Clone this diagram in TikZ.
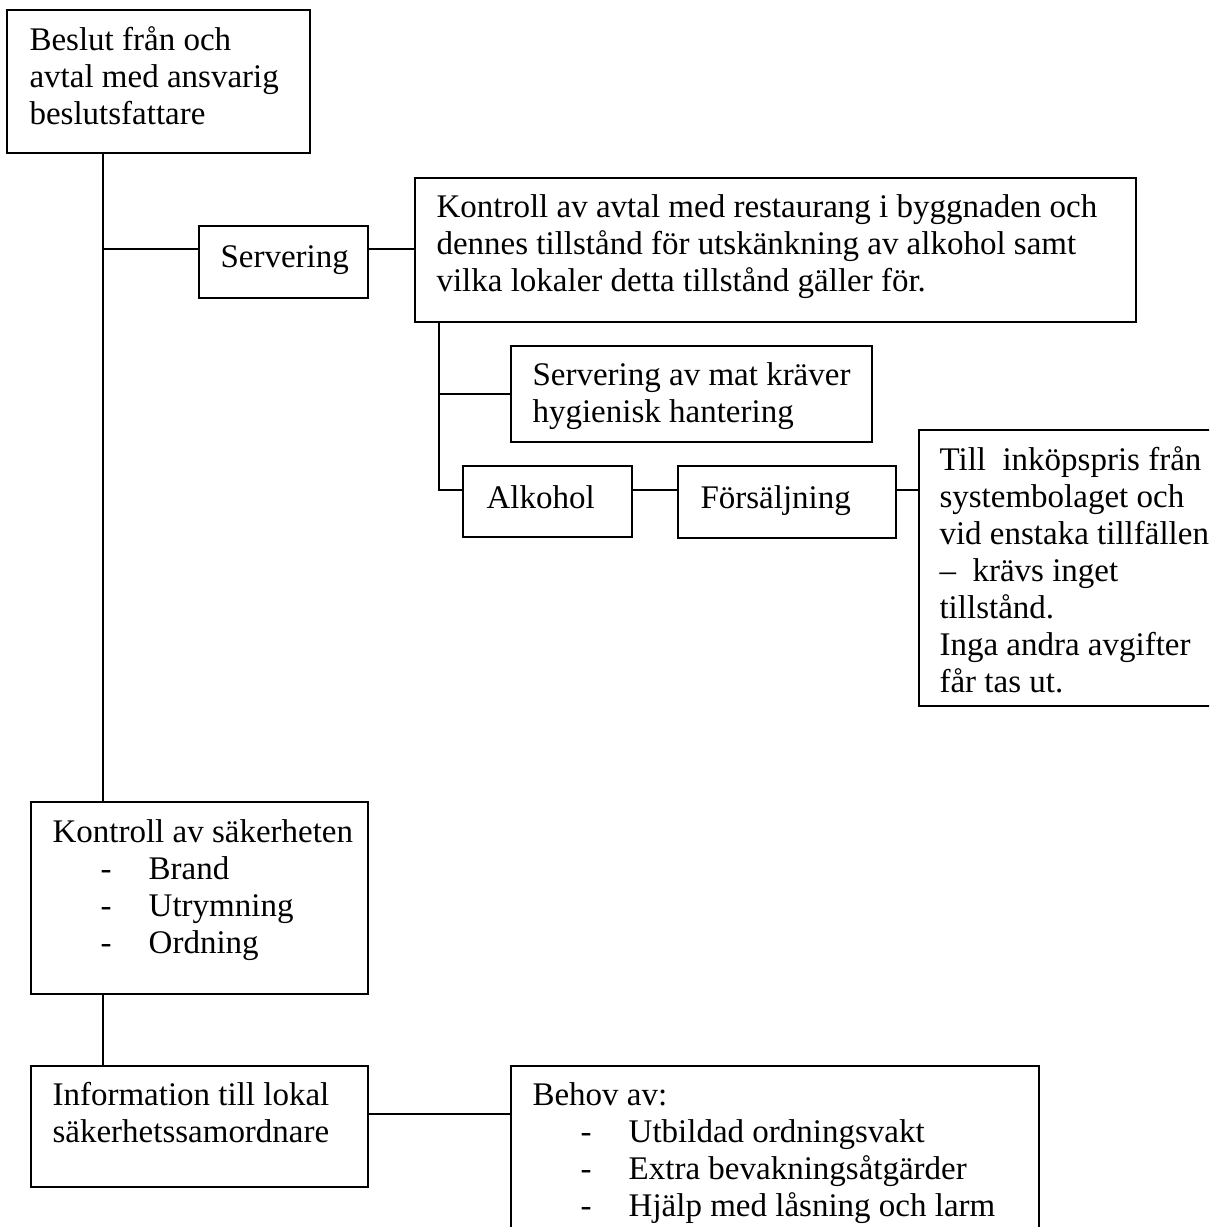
\documentclass[tikz,border=0pt]{standalone}
\usepackage{fontspec}
\setmainfont{Liberation Serif}
\begin{document}
\begin{tikzpicture}[x=0.3576pt,y=-0.3576pt,
  bx/.style n args={2}{draw, line width=0.7pt, minimum width=#1*0.3576pt, minimum height=#2*0.3576pt, anchor=north west, inner sep=0pt, outer sep=0pt},
  txt/.style={anchor=north west, inner sep=0pt, align=left, font=\fontsize{11.8}{13.25}\selectfont},
  conn/.style={line width=0.7pt}]
\useasboundingbox (0,0) rectangle (1209,1227);
\clip (0,0) rectangle (1209,1227);
% boxes
\node[bx={303}{143}] (b1) at (7,10) {};
\node[bx={169}{72}] (serv) at (199,226) {};
\node[bx={721}{144}] (avtal) at (415,178) {};
\node[bx={361}{96}] (mat) at (511,346) {};
\node[bx={169}{71}] (alk) at (463,466) {};
\node[bx={218}{72}] (fors) at (678,466) {};
\node[bx={300}{276}] (till) at (919,430) {};
\node[bx={337}{192}] (sak) at (31,802) {};
\node[bx={337}{121}] (info) at (31,1066) {};
\node[bx={528}{180}] (behov) at (511,1066) {};
% texts
\node[txt] (t1) at (29,24) {\strut Beslut från och\\avtal med ansvarig\\beslutsfattare};
\node[txt] (t2) at (220,241) {\strut Servering};
\node[txt] (t3) at (436,191) {\strut Kontroll av avtal med restaurang i byggnaden och\\dennes tillstånd för utskänkning av alkohol samt\\vilka lokaler detta tillstånd gäller för.};
\node[txt] (t4) at (532,359) {\strut Servering av mat kräver\\hygienisk hantering};
\node[txt] (t5) at (486,482) {\strut Alkohol};
\node[txt] (t6) at (700,482) {\strut Försäljning};
\node[txt] (t7) at (939,444) {\strut Till\ \ inköpspris från\\systembolaget och\\vid enstaka tillfällen\\–\ \ krävs inget\\tillstånd.\\Inga andra avgifter\\får tas ut.};
\node[txt] (t8) at (52,816) {\strut Kontroll av säkerheten\\\hspace*{17.2pt}\makebox[17.2pt][l]{-}Brand\\\hspace*{17.2pt}\makebox[17.2pt][l]{-}Utrymning\\\hspace*{17.2pt}\makebox[17.2pt][l]{-}Ordning};
\node[txt] (t9) at (52,1079) {\strut Information till lokal\\säkerhetssamordnare};
\node[txt] (t10) at (532,1079) {\strut Behov av:\\\hspace*{17.2pt}\makebox[17.2pt][l]{-}Utbildad ordningsvakt\\\hspace*{17.2pt}\makebox[17.2pt][l]{-}Extra bevakningsåtgärder\\\hspace*{17.2pt}\makebox[17.2pt][l]{-}Hjälp med låsning och larm};
% junctions
\coordinate (j1) at (103,249);
\coordinate (j2) at (439,394);
\coordinate (j3) at (439,490);
\coordinate (j4) at (103,1114);
% connectors
\draw[conn] (b1.south -| j1) -- (sak.north -| j1);
\draw[conn] (j1) -- (j1 -| serv.west);
\draw[conn] (serv.east |- j1) -- (avtal.west |- j1);
\draw[conn] (avtal.south -| j3) -- (j3) -- (j3 -| alk.west);
\draw[conn] (j2) -- (j2 -| mat.west);
\draw[conn] (alk.east |- j3) -- (fors.west |- j3);
\draw[conn] (fors.east |- j3) -- (till.west |- j3);
\draw[conn] (sak.south -| j1) -- (info.north -| j1);
\draw[conn] (info.east |- j4) -- (behov.west |- j4);
\end{tikzpicture}
\end{document}
